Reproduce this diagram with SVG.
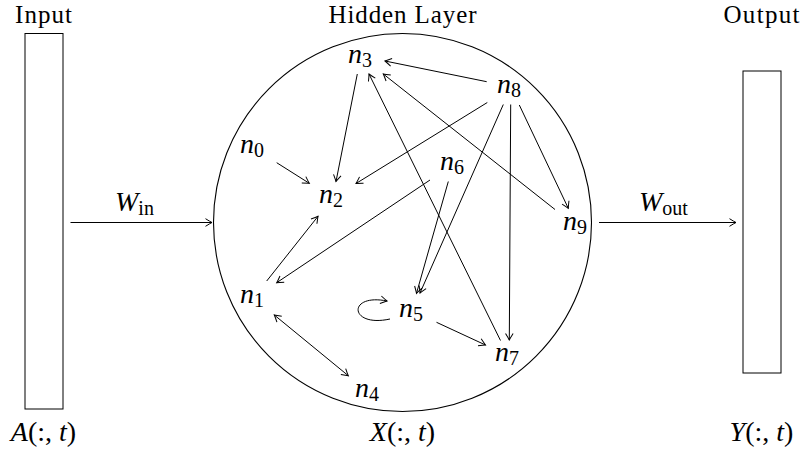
<svg xmlns="http://www.w3.org/2000/svg" width="805" height="455" viewBox="0 0 805 455">
<style>
  .t { font-family: "Liberation Serif", "Times New Roman", serif; font-size: 25px; fill: #000; }
  .m { font-family: "Liberation Serif", "Times New Roman", serif; font-size: 28px; font-style: italic; fill: #000; }
  .sub { font-size: 20px; }
  .rm { font-style: normal; }
  .box { fill: #fff; stroke: #000; stroke-width: 1; }
  .c { fill: none; stroke: #000; stroke-width: 1.1; }
  .e { fill: none; stroke: #000; stroke-width: 1; marker-end: url(#ah); }
  .b { marker-start: url(#ahs); }
</style>
<defs>
  <marker id="ah" markerUnits="userSpaceOnUse" markerWidth="12" markerHeight="12" viewBox="-8 -6 10 12" refX="0" refY="0" orient="auto">
    <path d="M -6.5 -3.8 Q -2 -1 0 0 Q -2 1 -6.5 3.8" fill="none" stroke="#000" stroke-width="1"/>
  </marker>
  <marker id="ahs" markerUnits="userSpaceOnUse" markerWidth="12" markerHeight="12" viewBox="-8 -6 10 12" refX="0" refY="0" orient="auto-start-reverse">
    <path d="M -6.5 -3.8 Q -2 -1 0 0 Q -2 1 -6.5 3.8" fill="none" stroke="#000" stroke-width="1"/>
  </marker>
</defs>

<g id="input">
  <text class="t" x="43.5" y="22.5" text-anchor="middle" textLength="57" lengthAdjust="spacing">Input</text>
  <rect class="box" x="25" y="33.5" width="38" height="375.5"/>
  <text class="m" x="43.5" y="441" text-anchor="middle">A<tspan class="rm">(:, </tspan>t<tspan class="rm">)</tspan></text>
</g>

<g id="hidden">
  <text class="t" x="402.5" y="22.5" text-anchor="middle" textLength="148" lengthAdjust="spacing">Hidden Layer</text>
  <circle class="c" cx="402.5" cy="222.5" r="189"/>
  <text class="m" x="402.5" y="441" text-anchor="middle">X<tspan class="rm">(:, </tspan>t<tspan class="rm">)</tspan></text>
</g>

<g id="output">
  <text class="t" x="761.5" y="22.5" text-anchor="middle" textLength="76" lengthAdjust="spacing">Output</text>
  <rect class="box" x="743" y="71" width="38" height="302"/>
  <text class="m" x="761.5" y="441" text-anchor="middle">Y<tspan class="rm">(:, </tspan>t<tspan class="rm">)</tspan></text>
</g>

<g id="n0"><text class="m" x="240" y="153">n<tspan class="sub rm" dy="4">0</tspan></text></g>
<g id="n1"><text class="m" x="240" y="303">n<tspan class="sub rm" dy="4">1</tspan></text></g>
<g id="n2"><text class="m" x="319" y="203">n<tspan class="sub rm" dy="4">2</tspan></text></g>
<g id="n3"><text class="m" x="348" y="62.5">n<tspan class="sub rm" dy="4">3</tspan></text></g>
<g id="n4"><text class="m" x="355" y="397">n<tspan class="sub rm" dy="4">4</tspan></text></g>
<g id="n5"><text class="m" x="399" y="317">n<tspan class="sub rm" dy="4">5</tspan></text></g>
<g id="n6"><text class="m" x="440" y="170">n<tspan class="sub rm" dy="4">6</tspan></text></g>
<g id="n7"><text class="m" x="495" y="361">n<tspan class="sub rm" dy="4">7</tspan></text></g>
<g id="n8"><text class="m" x="497" y="93">n<tspan class="sub rm" dy="4">8</tspan></text></g>
<g id="n9"><text class="m" x="563" y="230">n<tspan class="sub rm" dy="4">9</tspan></text></g>

<g id="connectors">
  <line class="e" x1="70.5" y1="222.5" x2="212" y2="222.5"/>
  <text class="m" x="115" y="211">W<tspan class="sub rm" dy="4">in</tspan></text>
  <line class="e" x1="599" y1="222.5" x2="736" y2="222.5"/>
  <text class="m" x="639" y="211">W<tspan class="sub rm" dy="4">out</tspan></text>

  <line class="e" x1="486.7" y1="81.7" x2="385" y2="61"/>
  <line class="e" x1="357.3" y1="74" x2="336" y2="181.5"/>
  <line class="e" x1="500.5" y1="340.5" x2="369" y2="74"/>
  <line class="e" x1="555" y1="209.5" x2="383.3" y2="74"/>
  <line class="e" x1="487.3" y1="102.5" x2="356" y2="183.5"/>
  <line class="e" x1="503.3" y1="104.5" x2="420" y2="293"/>
  <line class="e" x1="448.3" y1="181.5" x2="416.5" y2="293.3"/>
  <line class="e" x1="510.7" y1="104.5" x2="509.3" y2="340"/>
  <line class="e" x1="519.3" y1="105" x2="568.3" y2="208.3"/>
  <line class="e" x1="276.7" y1="162.7" x2="309.3" y2="183.3"/>
  <line class="e" x1="266.7" y1="281" x2="318" y2="216.3"/>
  <line class="e" x1="430" y1="180" x2="276.7" y2="282.7"/>
  <line class="e b" x1="274.3" y1="315" x2="348.3" y2="375.7"/>
  <line class="e" x1="436.5" y1="322.3" x2="485.5" y2="345"/>
  <path class="e" d="M 390 319 C 349 328, 347 293, 387 301"/>
</g>
</svg>
